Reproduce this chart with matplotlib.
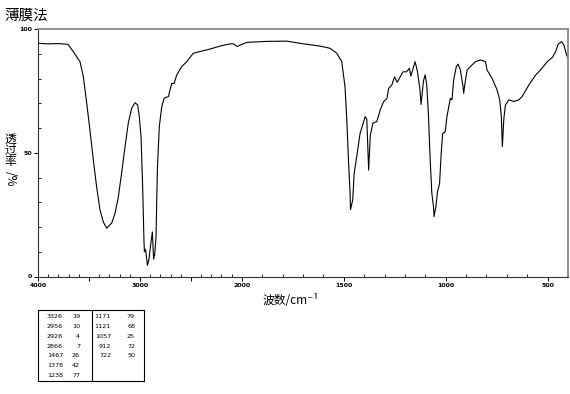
import numpy as np
import matplotlib
matplotlib.use("Agg")
import matplotlib.pyplot as plt
from matplotlib.ticker import FixedLocator, FixedFormatter

plt.rcParams['font.family'] = ['Noto Sans CJK SC', 'DejaVu Sans']

# ---- data (wavenumber cm^-1, transmittance %) ----
wavenumber = [4000, 3900, 3800, 3705, 3653, 3588, 3555, 3522, 3490, 3457, 3424, 3392,
              3359, 3326, 3277, 3244, 3212, 3179, 3146, 3114, 3081, 3048, 3022, 3006,
              2989, 2973, 2960, 2956, 2945, 2926, 2911, 2894, 2878, 2866, 2855, 2842,
              2829, 2810, 2786, 2763, 2737, 2720, 2705, 2688, 2665, 2639, 2590, 2541,
              2476, 2410, 2312, 2214, 2116, 2083, 2044, 2018, 1975, 1877, 1779, 1714,
              1616, 1567, 1534, 1510, 1494, 1485, 1477, 1469, 1467, 1456, 1449, 1439,
              1420, 1395, 1387, 1378, 1370, 1357, 1338, 1321, 1305, 1288, 1280, 1264,
              1251, 1238, 1223, 1210, 1193, 1178, 1171, 1150, 1139, 1126, 1121, 1109,
              1101, 1093, 1085, 1076, 1068, 1060, 1057, 1048, 1040, 1030, 1022, 1015,
              1002, 994, 977, 969, 961, 948, 939, 928, 915, 912, 904, 895, 879, 854,
              830, 805, 797, 772, 748, 735, 727, 722, 715, 707, 690, 666, 641, 625,
              592, 559, 535, 502, 477, 461, 448, 431, 420, 407, 400]
transmittance = [94.2, 94.0, 94.1, 93.8, 90.8, 86.8, 80.7, 70.0, 59.0, 47.0, 36.0, 27.0,
                 22.0, 19.5, 21.6, 25.6, 32.0, 42.0, 52.5, 62.0, 68.0, 70.2, 69.3, 64.6,
                 56.5, 36.0, 14.0, 10.0, 11.0, 4.5, 7.0, 13.0, 18.0, 7.0, 9.0, 16.0,
                 43.0, 60.5, 68.6, 72.0, 72.5, 72.7, 75.4, 78.0, 78.0, 81.4, 84.8, 86.8,
                 90.2, 90.9, 91.9, 93.1, 94.0, 94.0, 92.9, 93.5, 94.6, 95.0, 95.1, 94.2,
                 93.1, 92.2, 90.2, 86.8, 76.7, 63.2, 47.0, 33.6, 27.0, 31.0, 41.7, 47.0,
                 57.8, 64.6, 63.5, 43.0, 57.0, 62.0, 62.6, 67.3, 70.6, 72.0, 76.0, 77.4,
                 80.7, 78.5, 80.7, 82.7, 82.7, 84.1, 81.0, 86.8, 83.0, 75.4, 69.5, 79.0,
                 81.5, 77.4, 66.0, 47.0, 33.6, 28.3, 24.2, 28.3, 34.3, 37.6, 49.8, 57.8,
                 58.5, 64.6, 72.0, 71.4, 79.4, 84.8, 85.8, 83.4, 76.7, 74.0, 78.8, 83.4,
                 84.8, 86.8, 87.5, 86.8, 83.4, 80.0, 75.4, 71.4, 64.6, 52.5, 63.5, 69.3,
                 71.4, 70.7, 71.4, 72.7, 77.4, 81.4, 83.4, 86.8, 88.5, 90.8, 93.9, 94.9,
                 93.5, 89.5, 88.1]

major_ticks = [4000, 3500, 3000, 2500, 2000, 1500, 1000, 500]
major_labels = ['4000', '', '3000', '', '2000', '1500', '1000', '500']
y_ticks = [0, 50, 100]
y_labels = ['0', '50', '100']

peak_table_left = [("3326", "19"), ("2956", "10"), ("2926", "4"), ("2866", "7"),
                   ("1467", "26"), ("1378", "42"), ("1238", "77")]
peak_table_right = [("1171", "79"), ("1121", "68"), ("1057", "25"), ("912", "72"),
                    ("722", "50")]


def fwd(x):
    x = np.asarray(x, dtype=float)
    return np.where(x >= 2000, (x - 4000) / 1000.0, -2 + (x - 2000) / 500.0)


def inv(u):
    u = np.asarray(u, dtype=float)
    return np.where(u >= -2, 4000 + 1000.0 * u, 2000 + 500.0 * (u + 2))


W, H = 570, 394
fig = plt.figure(figsize=(W / 100, H / 100), dpi=100)
ax = fig.add_axes([38 / W, 1 - 276.5 / H, 530 / W, 247.5 / H])
ax.set_xscale('function', functions=(fwd, inv))
ax.plot(wavenumber, transmittance, color='black', lw=0.8)
ax.set_xlim(4000, 400)
ax.set_ylim(0, 100)

ax.xaxis.set_major_locator(FixedLocator(major_ticks))
ax.xaxis.set_major_formatter(FixedFormatter(major_labels))
minor = [v for v in range(4000, 399, -100) if v not in major_ticks]
ax.xaxis.set_minor_locator(FixedLocator(minor))
ax.yaxis.set_major_locator(FixedLocator(y_ticks))
ax.yaxis.set_major_formatter(FixedFormatter(y_labels))
ax.yaxis.set_minor_locator(FixedLocator([v for v in range(10, 100, 10) if v != 50]))

ax.tick_params(which='major', direction='out', length=3, width=0.7, labelsize=4.5,
               pad=1.5, colors='black')
ax.tick_params(which='minor', direction='in', length=2, width=0.6)
for lab in ax.get_xticklabels() + ax.get_yticklabels():
    lab.set_family('DejaVu Sans')
    lab.set_fontweight('bold')

for s in ['left', 'bottom']:
    ax.spines[s].set_color('#333333')
    ax.spines[s].set_linewidth(0.8)
for s in ['top', 'right']:
    ax.spines[s].set_color('#888888')
    ax.spines[s].set_linewidth(1.3)

fig.text(4 / W, 1 - 16 / H, '薄膜法', fontsize=10.5, va='center', ha='left')
fig.text(291 / W, 1 - 300 / H, '波数/cm⁻¹', fontsize=8.5, va='center', ha='center')
for k, ch in enumerate('透过率'):
    fig.text(10 / W, 1 - (139 + 11.5 * k) / H, ch, fontsize=8.5, va='center',
             ha='center')
fig.text(10 / W, 1 - 179 / H, '/%', fontsize=8.5, va='center', ha='center',
         rotation=-90)

# peak table
tx = fig.add_axes([38 / W, 1 - 381 / H, 106 / W, 71 / H])
tx.set_xlim(38, 144)
tx.set_ylim(381, 310)
tx.set_xticks([])
tx.set_yticks([])
for s in tx.spines.values():
    s.set_linewidth(0.8)
tx.axvline(92, color='black', lw=0.8)
tfs = 4.6
for i, (a, b) in enumerate(peak_table_left):
    y = 317 + 9.67 * i
    tx.text(63, y, a, ha='right', va='center', fontsize=tfs, family='DejaVu Sans')
    tx.text(80, y, b, ha='right', va='center', fontsize=tfs, family='DejaVu Sans')
for i, (a, b) in enumerate(peak_table_right):
    y = 317 + 9.67 * i
    tx.text(111, y, a, ha='right', va='center', fontsize=tfs, family='DejaVu Sans')
    tx.text(135, y, b, ha='right', va='center', fontsize=tfs, family='DejaVu Sans')

fig.savefig('out.png', dpi=100)
